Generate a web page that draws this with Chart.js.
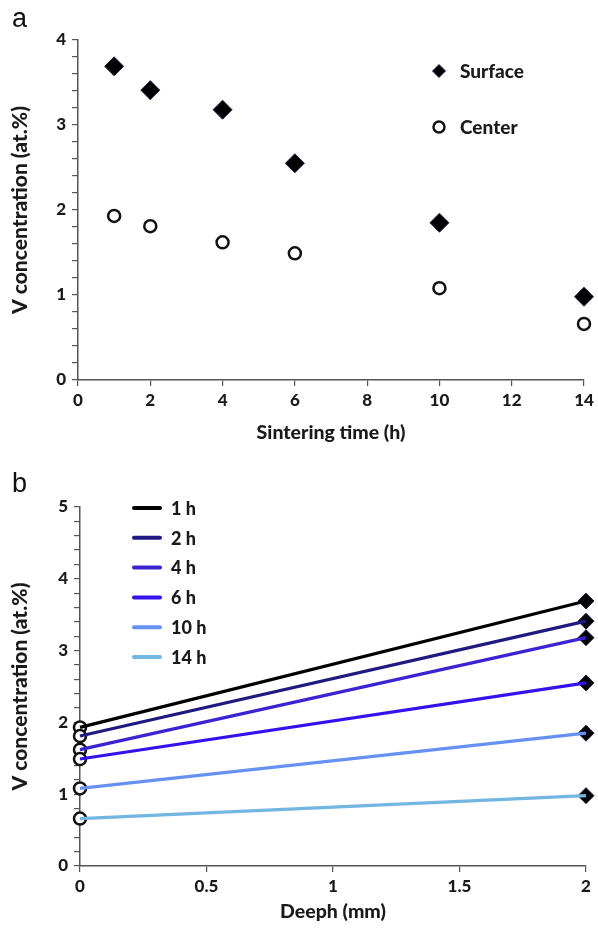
<!DOCTYPE html>
<html>
<head>
<meta charset="utf-8">
<script src="https://cdn.jsdelivr.net/npm/chart.js@4.4.0/dist/chart.umd.min.js"></script>
<style>
  body { margin: 0; background: #fff; }
  #wrap { position: relative; width: 598px; height: 928px; }
  canvas { position: absolute; left: 0; }
  .panel { position: absolute; left: 12px; font: 27px "Liberation Sans", Arial, sans-serif; color: #111; line-height: 30px; }
</style>
</head>
<body>
<div id="wrap">
  <canvas id="chartA" width="598" height="460" style="top:0"></canvas>
  <canvas id="chartB" width="598" height="468" style="top:460px"></canvas>
  <div class="panel" style="top:3px">a</div>
  <div class="panel" style="top:468px">b</div>
</div>
<script>
// data
const sinterTime = [1, 2, 4, 6, 10, 14];
const surfaceConc = [3.69, 3.41, 3.18, 2.55, 1.85, 0.98];
const centerConc = [1.93, 1.81, 1.62, 1.49, 1.08, 0.66];
const depthEnds = [0, 2];
const profileLabels = ["1 h", "2 h", "4 h", "6 h", "10 h", "14 h"];

const profileColors = ["#000000", "#1f1a80", "#3a24d2", "#3412ee", "#6592f2", "#72b6e2"];
const fontFamily = "Lato, 'Open Sans', sans-serif";
const fontWeight = "900";
const axisColor = "#555";

function integerLabel(v) {
  return Math.abs(v - Math.round(v)) < 1e-6 ? String(Math.round(v)) : "";
}

// small legend drawn inside the plot, like the original figure
const insideLegend = {
  id: "insideLegend",
  afterDraw(chart, args, opts) {
    const ctx = chart.ctx;
    ctx.save();
    ctx.font = fontWeight + " " + opts.size + "px " + fontFamily;
    ctx.textBaseline = "middle";
    opts.items.forEach((item, i) => {
      const y = opts.y + i * opts.gap;
      if (item.kind === "line") {
        ctx.strokeStyle = item.color;
        ctx.lineWidth = 4;
        ctx.lineCap = "round";
        ctx.beginPath();
        ctx.moveTo(opts.x, y);
        ctx.lineTo(opts.x + 26, y);
        ctx.stroke();
        ctx.fillStyle = "#1a1a1a";
        ctx.fillText(item.text, opts.x + 37, y + 1);
      } else {
        const diamond = item.kind === "rectRot";
        ctx.fillStyle = diamond ? "#000" : "#fff";
        ctx.strokeStyle = diamond ? "#2a1a48" : "#111";
        ctx.lineWidth = diamond ? 1 : 2.5;
        Chart.helpers.drawPoint(ctx, {
          pointStyle: item.kind,
          radius: diamond ? 6.5 : 5.5,
          borderWidth: ctx.lineWidth,
        }, opts.x, y);
        ctx.fillStyle = "#1a1a1a";
        ctx.fillText(item.text, opts.x + 21, y + 1);
      }
    });
    ctx.restore();
  },
};

function baseScales(xMin, xMax, xStep, yMax, yWidth, xHeight, xTitle, xTitlePad) {
  return {
    x: {
      type: "linear",
      min: xMin,
      max: xMax,
      afterFit: (s) => { s.height = xHeight; },
      border: { display: true, color: axisColor, width: 1.5 },
      grid: { display: true, drawOnChartArea: false, drawTicks: true, tickLength: 6, color: axisColor, lineWidth: 1.2 },
      ticks: {
        stepSize: xStep, color: "#1a1a1a", padding: 4,
        callback: (v) => String(+v.toFixed(2)),
        font: { family: fontFamily, size: 17, weight: fontWeight },
      },
      title: { display: true, text: xTitle, color: "#1a1a1a", padding: { top: 0, bottom: xTitlePad }, font: { family: fontFamily, size: 19.5, weight: fontWeight } },
    },
    y: {
      type: "linear",
      min: 0,
      max: yMax,
      afterFit: (s) => { s.width = yWidth; },
      border: { display: true, color: axisColor, width: 1.5 },
      grid: { display: true, drawOnChartArea: false, drawTicks: true, tickLength: 6, color: axisColor, lineWidth: 1.2 },
      ticks: { stepSize: 0.2, autoSkip: false, color: "#1a1a1a", padding: 6, callback: integerLabel, font: { family: fontFamily, size: 17, weight: fontWeight } },
      title: { display: true, text: "V concentration (at.%)", color: "#1a1a1a", padding: { top: 8, bottom: 0 }, font: { family: fontFamily, size: 21, weight: fontWeight } },
    },
  };
}

const diamondStyle = { pointStyle: "rectRot", pointBackgroundColor: "#000", pointBorderColor: "#2a1a48", pointBorderWidth: 1 };
const circleStyle = { pointStyle: "circle", pointBackgroundColor: "#fff", pointBorderColor: "#111", pointBorderWidth: 2.5 };

// panel a
new Chart(document.getElementById("chartA"), {
  type: "scatter",
  data: {
    datasets: [
      Object.assign({ label: "Surface", data: sinterTime.map((t, i) => ({ x: t, y: surfaceConc[i] })), pointRadius: 9.5, clip: false }, diamondStyle),
      Object.assign({ label: "Center", data: sinterTime.map((t, i) => ({ x: t, y: centerConc[i] })), pointRadius: 6, clip: false }, circleStyle),
    ],
  },
  options: {
    responsive: false,
    animation: false,
    layout: { padding: { left: 0, right: 14, top: 40, bottom: 0 } },
    scales: baseScales(0, 14, 2, 4, 78, 80, "Sintering time (h)", 16),
    plugins: {
      legend: { display: false },
      tooltip: { enabled: false },
      insideLegend: {
        x: 439, y: 71, gap: 56, size: 19,
        items: [
          { kind: "rectRot", text: "Surface" },
          { kind: "circle", text: "Center" },
        ],
      },
    },
  },
  plugins: [insideLegend],
});

// panel b
const profileSets = profileLabels.map((lab, i) => ({
  type: "line",
  label: lab,
  data: [{ x: depthEnds[0], y: centerConc[i] }, { x: depthEnds[1], y: surfaceConc[i] }],
  borderColor: profileColors[i],
  borderWidth: 3.2,
  pointRadius: 0,
  clip: false,
}));
const centerMarks = Object.assign({
  type: "scatter", label: "center",
  data: centerConc.map((c) => ({ x: depthEnds[0], y: c })),
  pointRadius: 6, clip: false,
}, circleStyle);
const surfaceMarks = Object.assign({
  type: "scatter", label: "surface",
  data: surfaceConc.map((s) => ({ x: depthEnds[1], y: s })),
  pointRadius: 8, clip: false,
}, diamondStyle);

new Chart(document.getElementById("chartB"), {
  type: "scatter",
  data: { datasets: [...profileSets, centerMarks, surfaceMarks] },
  options: {
    responsive: false,
    animation: false,
    layout: { padding: { left: 0, right: 12, top: 47, bottom: 0 } },
    scales: baseScales(0, 2, 0.5, 5, 80, 62, "Deeph (mm)", 5),
    plugins: {
      legend: { display: false },
      tooltip: { enabled: false },
      insideLegend: {
        x: 134, y: 48, gap: 29.8, size: 18,
        items: profileLabels.map((lab, i) => ({ kind: "line", text: lab, color: profileColors[i] })),
      },
    },
  },
  plugins: [insideLegend],
});
</script>
</body>
</html>
